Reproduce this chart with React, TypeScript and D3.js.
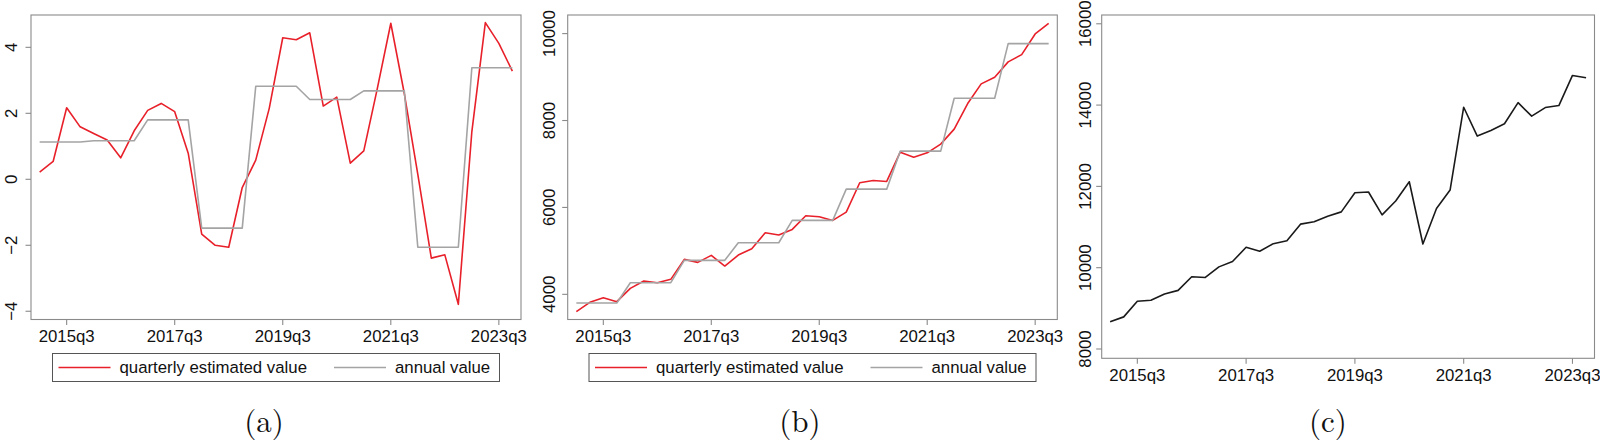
import * as d3 from 'd3';

// x categories: 2015q1 .. 2023q4
const quarters = [
  '2015q1', '2015q2', '2015q3', '2015q4', '2016q1', '2016q2', '2016q3', '2016q4',
  '2017q1', '2017q2', '2017q3', '2017q4', '2018q1', '2018q2', '2018q3', '2018q4',
  '2019q1', '2019q2', '2019q3', '2019q4', '2020q1', '2020q2', '2020q3', '2020q4',
  '2021q1', '2021q2', '2021q3', '2021q4', '2022q1', '2022q2', '2022q3', '2022q4',
  '2023q1', '2023q2', '2023q3', '2023q4',
];
const tickQuarters = ['2015q3', '2017q3', '2019q3', '2021q3', '2023q3'];

// (a) growth rate
const growthQuarterly = [
  0.22, 0.54, 2.17, 1.59, 1.39, 1.19, 0.65, 1.47, 2.09, 2.3, 2.05, 0.79,
  -1.66, -2.0, -2.06, -0.25, 0.58, 2.15, 4.29, 4.23, 4.44, 2.22, 2.49, 0.49,
  0.86, 2.75, 4.73, 2.6, 0.15, -2.39, -2.29, -3.79, 1.44, 4.75, 4.12, 3.28,
];
const growthAnnual = [1.13, 1.17, 1.8, -1.48, 2.82, 2.42, 2.68, -2.06, 3.38];
const growthTicks = [-4, -2, 0, 2, 4];

// (b) level
const levelQuarterly = [
  3602, 3816, 3923, 3831, 4138, 4307, 4268, 4345, 4805, 4736, 4897, 4651,
  4904, 5050, 5418, 5364, 5494, 5808, 5785, 5701, 5893, 6567, 6621, 6598,
  7272, 7157, 7257, 7456, 7801, 8391, 8843, 8996, 9349, 9517, 9992, 10237,
];
const levelAnnual = [3801, 4268, 4782, 5188, 5701, 6421, 7295, 8513, 9770];
const levelTicks = [4000, 6000, 8000, 10000];

// (c) single series
const seriesC = [
  8668, 8790, 9173, 9198, 9352, 9442, 9776, 9760, 10020, 10151, 10501, 10403,
  10591, 10664, 11071, 11128, 11267, 11373, 11845, 11862, 11299, 11642, 12114, 10582,
  11454, 11910, 13947, 13238, 13377, 13540, 14061, 13727, 13939, 13988, 14729, 14672,
];
const seriesCTicks = [8000, 10000, 12000, 14000, 16000];

const legendLabels = ['quarterly estimated value', 'annual value'];

const RED = '#e8202a';
const GRAY = '#a4a4a4';
const FRAME = '#8a8a8a';
const FONT = '"Liberation Sans", Arial, Helvetica, sans-serif';
const FS = 16.8;

const toQuarterly = (annual: number[]) => quarters.map((_, i) => annual[Math.floor(i / 4)]);

interface Series { values: number[]; color: string }
interface PanelProps {
  x0: number; x1: number; y0: number; y1: number;
  yDomain: [number, number];
  yTicks: number[];
  pad: number;
  labelGap: number;
  series: Series[];
  legend: boolean;
  caption: string;
  captionX: number;
}

function Panel(p: PanelProps) {
  const x = d3.scalePoint<string>().domain(quarters).range([p.x0, p.x1]).padding(p.pad);
  const y = d3.scaleLinear().domain(p.yDomain).range([p.y1, p.y0]);
  const line = d3.line<number>().x((_, i) => x(quarters[i]) as number).y(d => y(d));
  const tl = 5.5;
  const lgLeft = (p.x0 + p.x1) / 2 - 223.5;
  const lgTop = 353.5;
  return (
    <g>
      {p.series.map((s, k) => (
        <path key={k} d={line(s.values) || ''} fill="none" stroke={s.color} strokeWidth={1.6} strokeLinejoin="round" />
      ))}
      <rect x={p.x0} y={p.y0} width={p.x1 - p.x0} height={p.y1 - p.y0} fill="none" stroke={FRAME} strokeWidth={1.1} />
      {p.yTicks.map(t => (
        <g key={t}>
          <line x1={p.x0 - tl} x2={p.x0} y1={y(t)} y2={y(t)} stroke={FRAME} strokeWidth={1.1} />
          <text transform={`translate(${p.x0 - p.labelGap},${y(t)}) rotate(-90)`} textAnchor="middle"
            fontFamily={FONT} fontSize={FS} fill="#111">{t < 0 ? '\u2212' + Math.abs(t) : t}</text>
        </g>
      ))}
      {tickQuarters.map(q => (
        <g key={q}>
          <line x1={x(q)} x2={x(q)} y1={p.y1} y2={p.y1 + tl} stroke={FRAME} strokeWidth={1.1} />
          <text x={x(q)} y={p.y1 + 22.5} textAnchor="middle" fontFamily={FONT} fontSize={FS} fill="#111">{q}</text>
        </g>
      ))}
      {p.legend && (
        <g>
          <rect x={lgLeft} y={lgTop} width={447} height={28} fill="#fff" stroke="#555" strokeWidth={1} />
          {p.series.map((s, k) => {
            const lx = lgLeft + 6 + k * 275.5;
            return (
              <g key={k}>
                <line x1={lx} x2={lx + 52} y1={lgTop + 14} y2={lgTop + 14} stroke={s.color} strokeWidth={1.6} />
                <text x={lx + 61} y={lgTop + 19.5} fontFamily={FONT} fontSize={FS} fill="#111">{legendLabels[k]}</text>
              </g>
            );
          })}
        </g>
      )}
      <text x={p.captionX} y={431.5} textAnchor="middle" fontFamily='"Latin Modern Roman", "CMU Serif", "Liberation Serif", serif'
        fontSize={31} fill="#111">{p.caption}</text>
    </g>
  );
}

export default function App() {
  return (
    <div style={{ position: 'fixed', left: 0, top: 0, background: '#fff' }}>
      <svg width={1600} height={442} viewBox="0 0 1600 442">
        <rect width={1600} height={442} fill="#fff" />
        <Panel x0={31} x1={521} y0={15} y1={319.5} yDomain={[-4.25, 4.98]} yTicks={growthTicks}
          pad={0.64} labelGap={14} legend caption="(a)" captionX={264}
          series={[{ values: growthQuarterly, color: RED }, { values: toQuarterly(growthAnnual), color: GRAY }]} />
        <Panel x0={567.7} x1={1057.3} y0={15} y1={319.5} yDomain={[3421, 10428]} yTicks={levelTicks}
          pad={0.64} labelGap={13} legend caption="(b)" captionX={800}
          series={[{ values: levelQuarterly, color: RED }, { values: toQuarterly(levelAnnual), color: GRAY }]} />
        <Panel x0={1101.7} x1={1594.5} y0={15} y1={358.3} yDomain={[7771, 16216]} yTicks={seriesCTicks}
          pad={0.62} labelGap={10.5} legend={false} caption="(c)" captionX={1328}
          series={[{ values: seriesC, color: '#1a1a1a' }]} />
      </svg>
    </div>
  );
}
